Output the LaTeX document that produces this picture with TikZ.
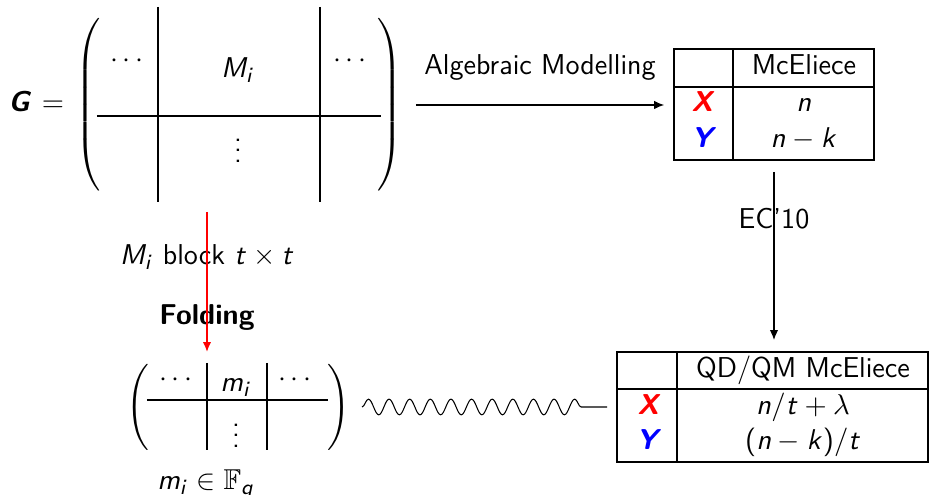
\documentclass[tikz,border=0pt]{standalone}
\usepackage{amssymb}
\usetikzlibrary{arrows.meta,decorations.pathmorphing}
\DeclareSymbolFont{sfit}{OT1}{cmss}{m}{sl}
\DeclareSymbolFont{sfup}{OT1}{cmss}{m}{n}
\DeclareMathSymbol{M}{\mathalpha}{sfit}{`M}
\DeclareMathSymbol{i}{\mathalpha}{sfit}{`i}
\DeclareMathSymbol{m}{\mathalpha}{sfit}{`m}
\DeclareMathSymbol{n}{\mathalpha}{sfit}{`n}
\DeclareMathSymbol{k}{\mathalpha}{sfit}{`k}
\DeclareMathSymbol{t}{\mathalpha}{sfit}{`t}
\DeclareMathSymbol{q}{\mathalpha}{sfit}{`q}
\DeclareMathSymbol{(}{\mathopen}{sfup}{`(}
\DeclareMathSymbol{)}{\mathclose}{sfup}{`)}
\DeclareMathSymbol{/}{\mathord}{sfup}{`/}
\newcommand\mydelim[3]{$\left#1\vcenter{\hrule height #2 width 0pt}\right#3$}
\tikzset{
  every node/.style={font=\sffamily\fontsize{11}{13.5}\selectfont, inner sep=0pt, outer sep=0pt},
  arr/.style={-{Latex[length=3.8pt,width=3.2pt]}, line width=0.4pt},
  tbl/.style={draw, line width=0.45pt},
  rulel/.style={line width=0.45pt},
  wave/.style={decorate, decoration={snake, segment length=7.9pt, amplitude=3pt, post length=7.7pt}, line width=0.4pt},
}
\begin{document}
\begin{tikzpicture}[x=0.383pt, y=-0.383pt]
\useasboundingbox (0,0) rectangle (930,495);

% G =
\node[anchor=base] (G) at (20,112) {\textbf{\textit{G}}};
\node[anchor=base] (eq) at (53,112) {$=$};

% big matrix
\node (lp) at (89.5,105) {\mydelim{(}{67pt}{.}};
\node (rp) at (388.5,105) {\mydelim{.}{67pt}{)}};
\draw[rulel] (158,7) -- (158,202);
\draw[rulel] (320,7) -- (320,202);
\draw[rulel] (97,116) -- (381,116);
\node (d1) at (127,61) {$\cdots$};
\node[anchor=base] (Mi) at (238,78) {$M_i$};
\node (d2) at (350,61) {$\cdots$};
\node (v1) at (238,143) {$\vdots$};

% table 1
\node[tbl, minimum width={200*0.383pt}, minimum height={111*0.383pt}] (t1) at (774,104.5) {};
\draw[rulel] (674,87) -- (874,87);
\draw[rulel] (733,49) -- (733,160);
\node[anchor=base] (h1) at (804,75) {McEliece};
\node[anchor=base] (x1) at (703,112) {\textcolor{red}{\textbf{\textit{X}}}};
\node[anchor=base] (n1) at (804,112) {$n$};
\node[anchor=base] (y1) at (704,148) {\textcolor{blue}{\textbf{\textit{Y}}}};
\node[anchor=base] (m1) at (804,148) {$n-k$};

% table 2
\node[tbl, minimum width={311*0.383pt}, minimum height={110*0.383pt}] (t2) at (772.5,407) {};
\draw[rulel] (617,389) -- (928,389);
\draw[rulel] (677,352) -- (677,462);
\node[anchor=base] (h2) at (803,378) {QD/QM McEliece};
\node[anchor=base] (x2) at (649,415) {\textcolor{red}{\textbf{\textit{X}}}};
\node[anchor=base] (n2) at (803,415) {$n/t+\lambda$};
\node[anchor=base] (y2) at (649,450) {\textcolor{blue}{\textbf{\textit{Y}}}};
\node[anchor=base] (m2) at (803,450) {$(n-k)/t$};

% algebraic modelling arrow
\coordinate (am) at (416,105);
\node[anchor=base] (alg) at (540,75) {Algebraic Modelling};
\draw[arr, shorten >=3.8pt] (am) -- (am -| t1.west);

% EC'10 arrow
\draw[arr, shorten <=4.6pt, shorten >=4.6pt] (t1.south) -- (t1.south |- t2.north);
\node[anchor=base] (ec) at (774,229) {EC'10};

% labels on left
\node[anchor=base] (blk) at (207,265) {$M_i$ block $t\times t$};
\node[anchor=base] (fold) at (207,325) {\textbf{Folding}};

% small matrix
\node (slp) at (139.5,407.5) {\mydelim{(}{32.6pt}{.}};
\node (srp) at (337.5,407.5) {\mydelim{.}{32.6pt}{)}};
\draw[rulel] (207,363) -- (207,450);
\draw[rulel] (267,363) -- (267,450);
\draw[rulel] (147,400) -- (328,400);
\node (sd1) at (176,380) {$\cdots$};
\node[anchor=base] (smi) at (236,392) {$m_i$};
\node (sd2) at (295,380) {$\cdots$};
\node (sv1) at (236,428) {$\vdots$};
\node[anchor=base] (fq) at (206,490) {$m_i\in\mathbb{F}_q$};

% red folding arrow
\coordinate (ra) at (207,212);
\coordinate (rb) at (207,352);
\draw[arr, red, line width=0.6pt] (ra) -- (rb);

% wave
\coordinate (w0) at (362,407);
\draw[wave] (w0) -- ([xshift=-3.8pt]t2.west);
\end{tikzpicture}
\end{document}
